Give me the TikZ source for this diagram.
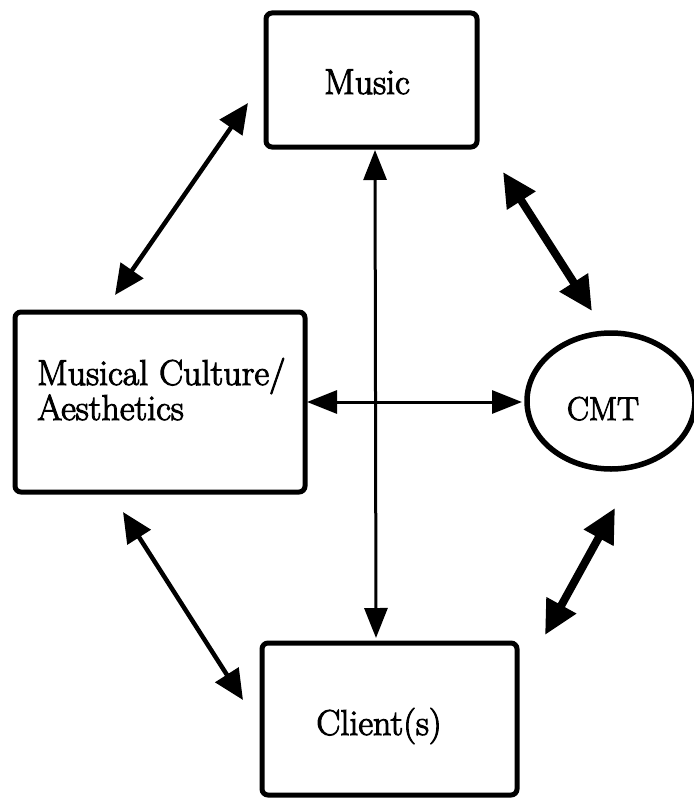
\documentclass[tikz,border=0pt]{standalone}
\usetikzlibrary{arrows.meta,shapes.geometric}
% stroke the glyph outlines as well as filling them, for a heavier type
\newcommand{\heavytext}[1]{\special{pdf:literal direct 2 Tr 1.0 w}#1\special{pdf:literal direct 0 Tr}}
\begin{document}
\begin{tikzpicture}[x=1pt,y=-1pt,
  box/.style={draw,line width=5pt,rounded corners=6pt,inner sep=0pt},
  oval/.style={draw,ellipse,line width=5.5pt,inner sep=0pt},
  lbl/.style={font=\fontsize{36}{40}\selectfont,inner sep=0pt},
  slimlink/.style={line width=3pt,{Triangle[length=30pt,width=23pt]}-{Triangle[length=30pt,width=23pt]}},
  midlink/.style={line width=4.5pt,{Triangle[length=30pt,width=27pt]}-{Triangle[length=30pt,width=27pt]}},
  heavylink/.style={line width=8pt,{Triangle[length=34pt,width=32pt]}-{Triangle[length=34pt,width=32pt]}}
]
\useasboundingbox (0,0) rectangle (693,800);

% boxes
\node[box,minimum width=211pt,minimum height=134pt] (music) at (371.5,80) {};
\node[box,minimum width=290pt,minimum height=180pt] (culture) at (160,402) {};
\node[box,minimum width=255pt,minimum height=152pt] (client) at (389.5,719) {};
\node[oval,minimum width=168pt,minimum height=136pt] (cmt) at (611,401) {};

% labels
\node[lbl,anchor=base] (musictxt) at (367,94) {\heavytext{Music}};
\node[lbl,anchor=base west] (culturetxta) at (37,385) {\heavytext{Musical Culture/}};
\node[lbl,anchor=base west] (culturetxtb) at (37,420) {\heavytext{Aesthetics}};
\node[lbl,anchor=base] (clienttxt) at (379,735) {\heavytext{Client(s)}};
\node[lbl,font=\fontsize{33}{38}\selectfont,anchor=base] (cmttxt) at (603,420) {\heavytext{CMT}};

% connector end points
\coordinate (mcA) at (248,103);
\coordinate (mcB) at (115,295);
\coordinate (mtA) at (503,172);
\coordinate (mtB) at (592,311);
\coordinate (vA) at (375,150);
\coordinate (vB) at (376,638);
\coordinate (hA) at (307,402);
\coordinate (hB) at (522,402);
\coordinate (ccA) at (123,512);
\coordinate (ccB) at (243,700);
\coordinate (tcA) at (615,508);
\coordinate (tcB) at (545,635);

% connectors
\draw[midlink] (mcA) -- (mcB);
\draw[heavylink] (mtA) -- (mtB);
\draw[slimlink] (vA) -- (vB);
\draw[slimlink] (hA) -- (hB);
\draw[midlink] (ccA) -- (ccB);
\draw[heavylink] (tcA) -- (tcB);
\end{tikzpicture}
\end{document}
